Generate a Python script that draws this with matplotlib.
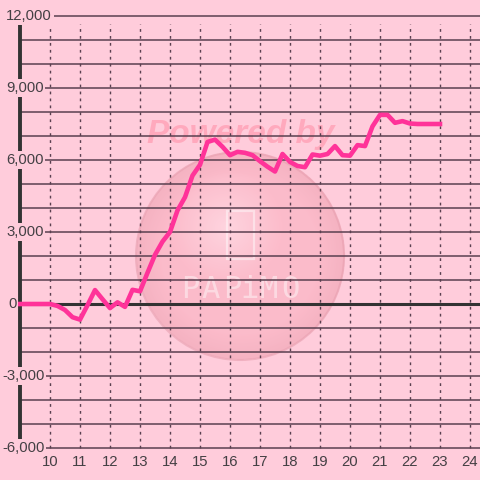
import matplotlib
matplotlib.use("Agg")
import matplotlib.pyplot as plt
import numpy as np
from matplotlib.patches import FancyBboxPatch, Ellipse

# ---- data ----
times = [9.0, 9.25, 9.5, 9.75, 10.0, 10.25, 10.5, 10.75, 11.0, 11.25, 11.5, 11.75,
         12.0, 12.25, 12.5, 12.75, 13.0, 13.25, 13.5, 13.75, 14.0, 14.25, 14.5, 14.75,
         15.0, 15.25, 15.5, 15.75, 16.0, 16.25, 16.5, 16.75, 17.0, 17.25, 17.5, 17.75,
         18.0, 18.25, 18.5, 18.75, 19.0, 19.25, 19.5, 19.75, 20.0, 20.25, 20.5, 20.75,
         21.0, 21.25, 21.5, 21.75, 22.0, 22.25, 22.5, 22.75, 23.0]
values = [0, 0, 0, 0, 0, -80, -250, -550, -650, -50, 580, 200,
          -170, 70, -120, 590, 530, 1300, 2050, 2600, 3000, 3900, 4450, 5350,
          5800, 6750, 6850, 6550, 6200, 6340, 6300, 6200, 5950, 5720, 5520, 6250,
          5920, 5750, 5700, 6230, 6180, 6250, 6580, 6200, 6180, 6620, 6580, 7400,
          7880, 7880, 7550, 7620, 7520, 7500, 7500, 7500, 7500]
x_ticks = [10, 11, 12, 13, 14, 15, 16, 17, 18, 19, 20, 21, 22, 23, 24]
y_ticks = [-6000, -3000, 0, 3000, 6000, 9000, 12000]
y_tick_labels = ["-6,000", "-3,000", "0", "3,000", "6,000", "9,000", "12,000"]
y_grid = list(range(-6000, 12001, 1000))

BG = "#ffccdb"
GRID = "#5a4050"
LINE = "#ff3399"
TXT = "#444044"

fig = plt.figure(figsize=(4.8, 4.8), dpi=100)
fig.patch.set_facecolor(BG)
ax = fig.add_axes([0, 0, 1, 1])
ax.set_facecolor(BG)
PXX = 30.0      # px per hour
PXY = 0.024     # px per unit
X0, X1 = 9 - 20 / PXX, 9 + 460 / PXX
Y1, Y0 = 304 / PXY, (304 - 480) / PXY
ax.set_xlim(X0, X1)
ax.set_ylim(Y0, Y1)
ax.axis("off")


def px2x(px):
    return X0 + px / PXX


def px2y(py):
    return (304 - py) / PXY


# ---- watermark (under grid) ----
cx, cy = px2x(240), px2y(256)
rx, ry = 104 / PXX, 104 / PXY
nx = 400
xs = np.linspace(cx - rx * 1.02, cx + rx * 1.02, nx)
ys = np.linspace(cy - ry * 1.02, cy + ry * 1.02, nx)
XX, YY = np.meshgrid(xs, ys)
r = np.sqrt(((XX - cx) / rx) ** 2 + ((YY - cy) / ry) ** 2)
hx, hy = px2x(226), px2y(228)
hr = np.sqrt(((XX - hx) / rx) ** 2 + ((YY - hy) / ry) ** 2)
img = np.zeros((nx, nx, 4))
edge = np.array([0.93, 0.62, 0.68])
mid = np.array([0.98, 0.68, 0.74])
hi = np.array([1.0, 0.86, 0.89])
m1 = np.clip(1 - hr / 0.55, 0, 1)[..., None]
m2 = np.clip((r - 0.75) / 0.25, 0, 1)[..., None]
col = mid * (1 - m1) + hi * m1
col = col * (1 - m2) + edge * m2
img[..., :3] = col
img[..., 3] = np.where(r <= 1.0, 0.55, 0.0)
ax.imshow(img, extent=[xs[0], xs[-1], ys[0], ys[-1]], origin="lower",
          aspect="auto", zorder=0.5, interpolation="bilinear")
ax.add_patch(Ellipse((cx, cy), 2 * rx, 2 * ry, fill=False,
                     edgecolor="#e8a0b0", lw=1.5, alpha=0.6, zorder=0.6))
ax.add_patch(FancyBboxPatch((px2x(227), px2y(259)), 27 / PXX, 48 / PXY,
                            boxstyle="round,pad=0,rounding_size=0.12",
                            fill=False, edgecolor="white", lw=1.6, alpha=0.45,
                            zorder=0.7, mutation_aspect=1 / (PXY * PXX)))
for ch, cpx in zip("PAPiMO", [190, 211, 232, 250, 269, 290]):
    ax.text(px2x(cpx), px2y(289), ch, ha="center", va="center",
            fontsize=22, color="white", alpha=0.45, family="DejaVu Sans Mono",
            zorder=0.7)
ax.text(px2x(241), px2y(134), "Powered by", ha="center", va="center",
        fontsize=24, color="#ffa6ba", alpha=0.9, family="Liberation Sans",
        fontweight="bold", fontstyle="italic", zorder=0.7)

# ---- grid ----
for g in y_grid:
    ax.plot([9, X1], [g, g], color=GRID, lw=1.1, zorder=1, solid_capstyle="butt")
for t in x_ticks:
    ax.plot([t, t], [-6000, px2y(24)], color=GRID, lw=1.0, ls=(0, (2, 3)), zorder=1)

# axes lines
ax.plot([9, X1], [0, 0], color="#333333", lw=2.2, zorder=3, solid_capstyle="butt")
ax.plot([9, 9], [-6000, px2y(24)], color="#333333", lw=2.8, zorder=3,
        solid_capstyle="butt")

# series
ax.plot(times, values, color=LINE, lw=3.3, zorder=5)

# tick labels
for v, lab in zip(y_ticks, y_tick_labels):
    start = 2 if lab.startswith("-") else (8 if lab == "0" else 6)
    ax.text(px2x(start), v, lab, ha="left", va="center", fontsize=10.7,
            color=TXT, family="Liberation Sans", zorder=6,
            bbox=dict(boxstyle="square,pad=0.12", facecolor=BG, edgecolor="none"))
for t in x_ticks:
    ax.text(t, px2y(462), str(t), ha="center", va="center",
            fontsize=10.7, color=TXT, family="Liberation Sans", zorder=6)

fig.savefig("out.png", dpi=100, facecolor=BG)
